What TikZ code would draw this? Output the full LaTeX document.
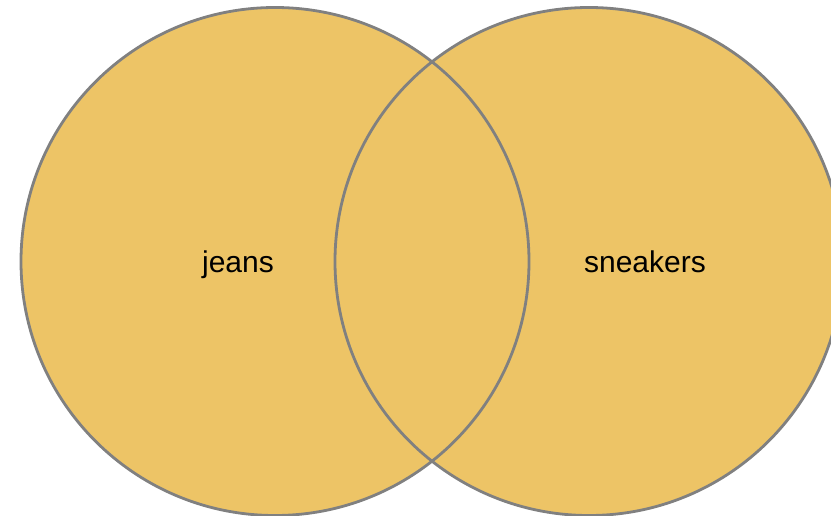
\documentclass[tikz,border=0pt]{standalone}
\usepackage{fontspec}
\setmainfont{Liberation Sans}
\definecolor{vennfill}{HTML}{EDC466}
\definecolor{vennline}{HTML}{808080}
\begin{document}
\begin{tikzpicture}[x=1pt,y=-1pt,
  vennset/.style={circle,minimum size=508pt,inner sep=0pt,draw=vennline,line width=2.8pt},
  venntext/.style={font=\fontsize{30}{35}\selectfont,text=black,inner sep=0pt,anchor=base}]
\useasboundingbox (0,0) rectangle (831,516);
\begin{scope}
\clip (0,0) rectangle (831,516);
\fill[vennfill] (275,261.5) circle (254);
\fill[vennfill] (589,261.5) circle (254);
\node[vennset] (jeansset) at (275,261.5) {};
\node[vennset] (sneakersset) at (589,261.5) {};
\end{scope}
\node[venntext] (jeans) at (238,272.5) {jeans};
\node[venntext] (sneakers) at (645,272.5) {sneakers};
\end{tikzpicture}
\end{document}
